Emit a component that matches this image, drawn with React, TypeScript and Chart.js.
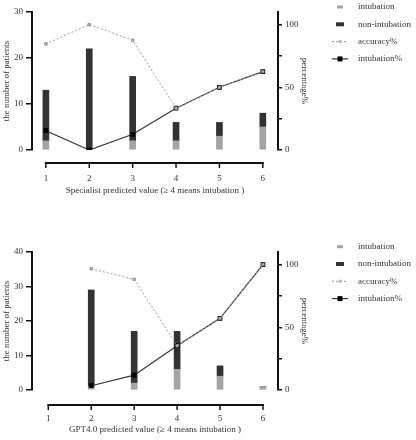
import React, { useEffect, useRef } from "react";
import { Chart, registerables } from "chart.js";

Chart.register(...registerables);

// ---------------- data ----------------
const xValues = [1, 2, 3, 4, 5, 6];

const specIntubation = [2, 0, 2, 2, 3, 5];
const specNonIntubation = [11, 22, 14, 4, 3, 3];
const specAccuracyPct = [84.6, 100, 87.5, 33.3, 50, 62.5];
const specIntubationPct = [15.4, 0, 12.5, 33.3, 50, 62.5];

const gptIntubation = [null, 1, 2, 6, 4, 1];
const gptNonIntubation = [null, 28, 15, 11, 3, 0];
const gptAccuracyPct = [null, 96.6, 88.2, 35.3, 57.1, 100];
const gptIntubationPct = [null, 3.4, 11.8, 35.3, 57.1, 100];

const percentTicks = [0, 25, 50, 75, 100];
const legendLabels = ["intubation", "non-intubation", "accuracy%", "intubation%"];

// ---------------- styles ----------------
const FONT = "'Liberation Serif', 'Times New Roman', serif";
const TEXT = "#333333";
const AXIS = "#111111";
const LIGHT = "#a4a4a4";
const DARK = "#333333";
const ACC = "#9a9a9a";

const detachedXAxis = {
  id: "detachedXAxis",
  afterDraw(chart: any, _args: any, opts: any) {
    const xs = chart.scales.x;
    const ctx = chart.ctx;
    const y = chart.chartArea.bottom + opts.gap;
    const px = xs.ticks.map((t: any) => xs.getPixelForValue(t.value));
    ctx.save();
    ctx.strokeStyle = AXIS;
    ctx.lineWidth = 2;
    ctx.beginPath();
    ctx.moveTo(px[0] - 1, y);
    ctx.lineTo(px[px.length - 1] + 1, y);
    ctx.stroke();
    ctx.lineWidth = 1.5;
    px.forEach((p: number) => {
      ctx.beginPath();
      ctx.moveTo(p, y);
      ctx.lineTo(p, y + 5);
      ctx.stroke();
    });
    ctx.restore();
  },
};

const customLegend = {
  id: "customLegend",
  afterDraw(chart: any, _args: any, opts: any) {
    const ctx = chart.ctx;
    ctx.save();
    ctx.font = `9px ${FONT}`;
    ctx.textBaseline = "middle";
    legendLabels.forEach((label, i) => {
      const y = opts.top + i * opts.step;
      const cx = opts.symbolX;
      if (i === 0) {
        ctx.fillStyle = LIGHT;
        ctx.fillRect(cx - 3, y - 1.5, 6, 3);
      } else if (i === 1) {
        ctx.fillStyle = DARK;
        ctx.fillRect(cx - 4, y - 2, 8, 4);
      } else if (i === 2) {
        ctx.strokeStyle = ACC;
        ctx.lineWidth = 1;
        ctx.setLineDash([2, 2]);
        ctx.beginPath();
        ctx.moveTo(cx - 8, y);
        ctx.lineTo(cx + 8, y);
        ctx.stroke();
        ctx.setLineDash([]);
        ctx.fillStyle = "#bbbbbb";
        ctx.fillRect(cx - 1.5, y - 1.5, 3, 3);
      } else {
        ctx.strokeStyle = DARK;
        ctx.lineWidth = 1.2;
        ctx.beginPath();
        ctx.moveTo(cx - 8, y);
        ctx.lineTo(cx + 8, y);
        ctx.stroke();
        ctx.fillStyle = "#000";
        ctx.fillRect(cx - 2.5, y - 2.5, 5, 5);
      }
      ctx.fillStyle = TEXT;
      ctx.fillText(label, opts.textX, y);
    });
    ctx.restore();
  },
};

type PanelProps = {
  intubation: (number | null)[];
  nonIntubation: (number | null)[];
  accuracy: (number | null)[];
  intubationPct: (number | null)[];
  countMax: number;
  xMin: number;
  xMax: number;
  xTitle: string;
  padTop: number;
  height: number;
  axisGap: number;
  legendTop: number;
  titlePadBottom: number;
};

function Panel(p: PanelProps) {
  const ref = useRef<HTMLCanvasElement | null>(null);
  useEffect(() => {
    if (!ref.current) return;
    const pts = (arr: (number | null)[]) => xValues.map((x, i) => ({ x, y: arr[i] }));
    const font = { family: FONT, size: 9 };
    const chart = new Chart(ref.current, {
      type: "bar",
      data: {
        datasets: [
          {
            type: "line",
            label: "accuracy%",
            data: pts(p.accuracy),
            yAxisID: "y1",
            borderColor: ACC,
            borderWidth: 1,
            borderDash: [2, 2],
            pointStyle: "rect",
            pointRadius: 1.8,
            pointBackgroundColor: "#bbbbbb",
            pointBorderColor: "#8a8a8a",
            pointBorderWidth: 0.8,
            order: 0,
          } as any,
          {
            type: "line",
            label: "intubation%",
            data: pts(p.intubationPct),
            yAxisID: "y1",
            borderColor: DARK,
            borderWidth: 1.2,
            pointStyle: "rect",
            pointRadius: 2.5,
            pointBackgroundColor: "#000",
            pointBorderColor: "#000",
            order: 1,
          } as any,
          {
            type: "bar",
            label: "intubation",
            data: pts(p.intubation),
            yAxisID: "y",
            stack: "s",
            backgroundColor: LIGHT,
            barThickness: 6,
            order: 2,
          } as any,
          {
            type: "bar",
            label: "non-intubation",
            data: pts(p.nonIntubation),
            yAxisID: "y",
            stack: "s",
            backgroundColor: DARK,
            barThickness: 6,
            order: 3,
          } as any,
        ],
      },
      options: {
        animation: false,
        responsive: false,
        layout: { padding: { top: p.padTop, left: 0, right: 106, bottom: 0 } },
        plugins: {
          legend: { display: false },
          tooltip: { enabled: false },
          detachedXAxis: { gap: p.axisGap },
          customLegend: { top: p.legendTop, step: 17.3, symbolX: 340, textX: 358 },
        } as any,
        scales: {
          x: {
            type: "linear",
            min: p.xMin,
            max: p.xMax,
            offset: false,
            afterBuildTicks: (s: any) => {
              s.ticks = xValues.map((v) => ({ value: v }));
            },
            grid: { display: false, drawTicks: false },
            border: { display: false },
            ticks: { padding: 23, font, color: TEXT, maxRotation: 0, autoSkip: false },
            title: {
              display: true,
              text: p.xTitle,
              font,
              color: TEXT,
              padding: { top: 0, bottom: p.titlePadBottom },
            },
            afterFit: (s: any) => {
              s.height = 50;
            },
          },
          y: {
            type: "linear",
            position: "left",
            stacked: true,
            min: 0,
            max: p.countMax,
            ticks: { stepSize: 10, padding: 3, font, color: TEXT },
            grid: { drawOnChartArea: false, drawTicks: true, tickLength: 6, color: AXIS, lineWidth: 1.5 },
            border: { display: true, color: AXIS, width: 2 },
            title: {
              display: true,
              text: "the number of patients",
              font,
              color: TEXT,
              padding: { top: 1, bottom: 0 },
            },
            afterFit: (s: any) => {
              s.width = 32;
            },
          },
          y1: {
            type: "linear",
            position: "right",
            min: 0,
            max: 110,
            afterBuildTicks: (s: any) => {
              s.ticks = percentTicks.map((v) => ({ value: v }));
            },
            ticks: {
              padding: 3,
              font,
              color: TEXT,
              autoSkip: false,
              callback: (v: any) => (Number(v) % 50 === 0 ? String(v) : ""),
            },
            grid: { drawOnChartArea: false, drawTicks: true, tickLength: 4, color: AXIS, lineWidth: 1.5 },
            border: { display: true, color: AXIS, width: 2 },
            title: {
              display: true,
              text: "percentage%",
              font,
              color: TEXT,
              padding: { top: 0, bottom: 0 },
            },
            afterFit: (s: any) => {
              s.width = 32;
            },
          },
        },
      } as any,
      plugins: [detachedXAxis, customLegend] as any,
    });
    return () => chart.destroy();
  }, []);
  return <canvas ref={ref} width={416} height={p.height} style={{ display: "block" }} />;
}

export default function App() {
  return (
    <div style={{ position: "absolute", left: 0, top: 0, width: 416, height: 440, background: "#fff" }}>
      <div style={{ position: "absolute", left: 0, top: 0 }}>
        <Panel
          intubation={specIntubation}
          nonIntubation={specNonIntubation}
          accuracy={specAccuracyPct}
          intubationPct={specIntubationPct}
          countMax={30}
          xMin={0.68}
          xMax={6.35}
          xTitle="Specialist predicted value (≥ 4 means intubation )"
          padTop={12}
          height={200}
          axisGap={13}
          legendTop={7}
          titlePadBottom={3.6}
        />
      </div>
      <div style={{ position: "absolute", left: 0, top: 220 }}>
        <Panel
          intubation={gptIntubation}
          nonIntubation={gptNonIntubation}
          accuracy={gptAccuracyPct}
          intubationPct={gptIntubationPct}
          countMax={40}
          xMin={0.62}
          xMax={6.35}
          xTitle="GPT4.0 predicted value (≥ 4 means intubation )"
          padTop={32}
          height={220}
          axisGap={15}
          legendTop={26.7}
          titlePadBottom={4.6}
        />
      </div>
    </div>
  );
}
